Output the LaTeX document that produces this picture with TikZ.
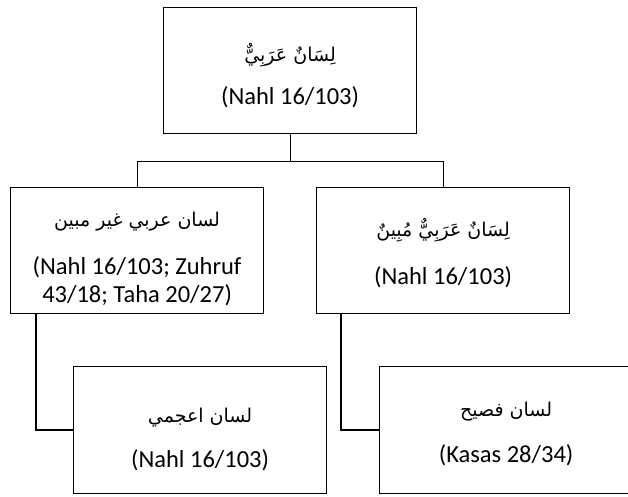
\documentclass[tikz,border=0pt]{standalone}
\usepackage{fontspec}
\setmainfont{Carlito}
\newfontfamily\arabicfont[Script=Arabic]{DejaVu Sans}
\TeXXeTstate=1
\begin{document}
\begin{tikzpicture}[x=1pt,y=1pt,
  box/.style={draw, line width=1.2pt, inner sep=0pt, anchor=north west, minimum width=253pt},
  conn/.style={line width=1.2pt},
  lat/.style={font=\fontsize{24.5}{28}\selectfont, inner sep=0pt, align=center},
  ara/.style={font=\arabicfont\fontsize{19}{24}\selectfont, inner sep=0pt}]
\useasboundingbox (0,0) rectangle (628,497);
\node[box, minimum height=126pt] (top) at (163,490) {};
\node[box, minimum height=126pt] (left) at (10,310) {};
\node[box, minimum height=126pt] (right) at (316,310) {};
\node[box, minimum height=127pt] (bl) at (73,131) {};
\node[box, minimum height=127pt] (br) at (379,131) {};
% texts
\node[ara] (topA) at ([yshift=15pt]top.center) {\beginR لِسَانٌ عَرَبِيٌّ\endR};
\node[lat] (topL) at ([yshift=-27pt]top.center) {(Nahl 16/103)};
\node[ara] (leftA) at ([yshift=29pt]left.center) {\beginR لسان عربي غير مبين\endR};
\node[lat] (leftL) at ([yshift=-31pt]left.center) {(Nahl 16/103; Zuhruf\\43/18; Taha 20/27)};
\node[ara] (rightA) at ([yshift=20pt]right.center) {\beginR لِسَانٌ عَرَبِيٌّ مُبِينٌ\endR};
\node[lat] (rightL) at ([yshift=-27pt]right.center) {(Nahl 16/103)};
\node[ara] (blA) at ([yshift=12pt]bl.center) {\beginR لسان اعجمي\endR};
\node[lat] (blL) at ([yshift=-30.5pt]bl.center) {(Nahl 16/103)};
\node[ara] (brA) at ([yshift=18.5pt]br.center) {\beginR لسان فصيح\endR};
\node[lat] (brL) at ([yshift=-25.5pt]br.center) {(Kasas 28/34)};
% connectors
\draw[conn] (top.south) -- ++(0,-27) coordinate (j);
\draw[conn] (left.north) |- (j) -| (right.north);
\draw[conn] ([xshift=26pt]left.south west) |- (bl.west);
\draw[conn] ([xshift=25pt]right.south west) |- (br.west);
\end{tikzpicture}
\end{document}
